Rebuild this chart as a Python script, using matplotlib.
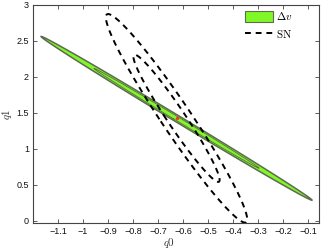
import numpy as np
import matplotlib
matplotlib.use("Agg")
import matplotlib.pyplot as plt
from matplotlib.patches import Polygon, Patch
from matplotlib.lines import Line2D

plt.rcParams['mathtext.fontset'] = 'cm'

# Gaussian contour parameters
center = (-0.626, 1.425)
dv_sigma = (0.218, 0.458)       # sigma_x, sigma_y for Delta v
dv_rho = -0.9989
sn_sigma = (0.1137, 0.583)      # sigma_x, sigma_y for SN
sn_rho = -0.968
levels = [2.30, 6.18]           # 68% and 95% chi^2 levels

xticks = [-1.1, -1.0, -0.9, -0.8, -0.7, -0.6, -0.5, -0.4, -0.3, -0.2, -0.1]
xticklabels = ['\u22121.1', '\u22121', '\u22120.9', '\u22120.8', '\u22120.7', '\u22120.6',
               '\u22120.5', '\u22120.4', '\u22120.3', '\u22120.2', '\u22120.1']
yticks = [0, 0.5, 1, 1.5, 2, 2.5, 3]
yticklabels = ['0', '0.5', '1', '1.5', '2', '2.5', '3']


def ellipse_pts(sig, rho, lev, n=300):
    cov = np.array([[sig[0]**2, rho*sig[0]*sig[1]], [rho*sig[0]*sig[1], sig[1]**2]])
    w, v = np.linalg.eigh(cov)
    t = np.linspace(0, 2*np.pi, n)
    circ = np.vstack([np.cos(t), np.sin(t)]) * np.sqrt(lev * w)[:, None]
    pts = v @ circ
    return pts[0] + center[0], pts[1] + center[1]


fig = plt.figure(figsize=(3.32, 2.5), dpi=100)
ax = fig.add_axes([0.0994, 0.108, 0.8616, 0.872])

green = '#80f828'
edge = '#5e6b4e'
x, y = ellipse_pts(dv_sigma, dv_rho, levels[1])
ax.add_patch(Polygon(np.column_stack([x, y]), closed=True, facecolor=green, edgecolor=edge, lw=1.1, zorder=2))
x, y = ellipse_pts(dv_sigma, dv_rho, levels[0])
ax.plot(x, y, color=edge, lw=0.6, zorder=3)

for lev in levels:
    x, y = ellipse_pts(sn_sigma, sn_rho, lev)
    ax.plot(x, y, color='black', lw=1.4, ls=(0, (3, 2.5)), zorder=4)

ax.plot([center[0]], [center[1]], 'o', color='#ff3030', ms=2.5, mec='none', zorder=5)

ax.set_xlim(-1.2, -0.056)
ax.set_ylim(-0.03, 3)
ax.set_xticks(xticks)
ax.set_xticklabels(xticklabels)
ax.set_yticks(yticks)
ax.set_yticklabels(yticklabels)
ax.tick_params(direction='in', top=True, right=True, length=3, width=0.6,
               labelsize=6.5, color='#444444', labelcolor='#111111', pad=3)
for lab in ax.get_xticklabels() + ax.get_yticklabels():
    lab.set_fontfamily('Liberation Sans')
for s in ax.spines.values():
    s.set_color('#444444')
    s.set_linewidth(0.8)

ax.set_xlabel(r'$q0$', fontsize=8, labelpad=1, color='#333333')
ax.xaxis.set_label_coords(0.475, -0.06)
ax.set_ylabel(r'$q1$', fontsize=8, labelpad=2, color='#333333')

handles = [Patch(facecolor=green, edgecolor=edge, lw=0.8),
           Line2D([], [], color='black', lw=1.4, ls=(0, (3, 2.5)))]
ax.legend(handles, [r'$\Delta v$', r'$\mathrm{SN}$'], loc='upper left',
          bbox_to_anchor=(0.742, 0.975), frameon=False, borderpad=0, borderaxespad=0,
          fontsize=8, handlelength=2.5, handleheight=1.1, handletextpad=0.25,
          labelspacing=0.5)

fig.savefig('out.png', dpi=100)
